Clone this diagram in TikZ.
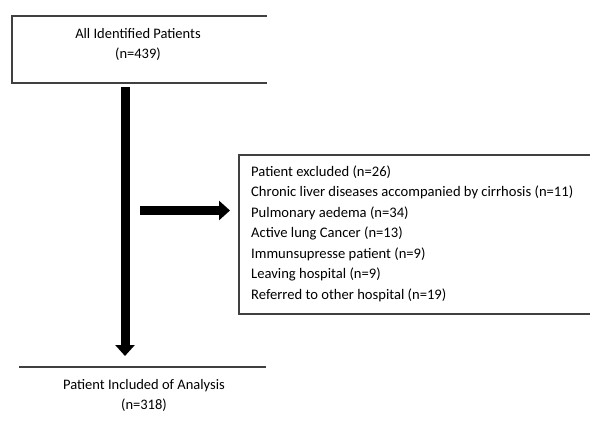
\documentclass[tikz,border=0pt]{standalone}
\usepackage{fontspec}
\setmainfont{Carlito}
\usetikzlibrary{positioning, calc, arrows.meta}

\begin{document}
\begin{tikzpicture}[x=1pt, y=-1pt, every node/.style={font=\fontsize{14.5}{20}\selectfont, inner sep=0pt}, fat/.style={line width=9pt, -{Triangle[width=19pt, length=11pt]}}, frame/.style={draw=black!75, line width=1.2pt}]
        \useasboundingbox (0,0) rectangle (590,428);
        \node[align=center] (all) at (138,44) {All Identified Patients\\(n=439)}; % all patients
        \node[align=left, anchor=west, font=\fontsize{14.6}{20.5}\selectfont] (excl) at (251,233.5) {Patient excluded (n=26)\\Chronic liver diseases accompanied by cirrhosis (n=11)\\Pulmonary aedema (n=34)\\Active lung Cancer (n=13)\\Immunsupresse patient (n=9)\\Leaving hospital (n=9)\\Referred to other hospital (n=19)}; % excluded patients
        \node[align=center] (incl) at (144,395) {Patient Included of Analysis\\(n=318)}; % analysed patients

        % Open frames
        \draw[frame] (267,16) -| (12,83) -- (267,83);
        \draw[frame] (590,155) -| (239,314) -- (590,314);
        \draw[frame] (19,367) -- (266,367);

        % Arrows
        \coordinate (start) at (125,87);
        \coordinate (stop) at (125,356);
        \coordinate (side) at (140,210.5);
        \coordinate (tip) at (230,210.5);
        \draw[fat] (start) -- (stop);
        \draw[fat] (side) -- (tip);
\end{tikzpicture}
\end{document}
